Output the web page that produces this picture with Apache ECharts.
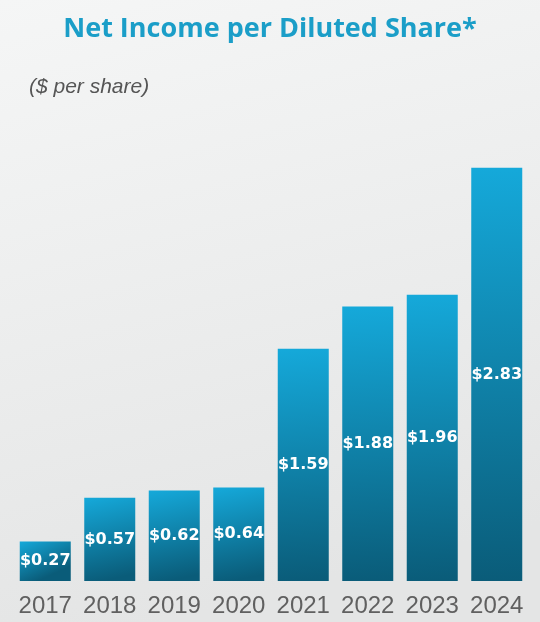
<!DOCTYPE html>
<html>
<head>
<meta charset="utf-8">
<script src="https://cdn.jsdelivr.net/npm/echarts@6/dist/echarts.min.js"></script>
<style>
  html, body { margin: 0; padding: 0; }
  #chart { width: 540px; height: 622px; }
</style>
</head>
<body>
<div id="chart"></div>
<script>
// Net income per diluted share, by fiscal year
const years = ['2017', '2018', '2019', '2020', '2021', '2022', '2023', '2024'];
const epsValues = [0.27, 0.57, 0.62, 0.64, 1.59, 1.88, 1.96, 2.83];

const chart = echarts.init(document.getElementById('chart'));

chart.setOption({
  animation: false,
  backgroundColor: {
    type: 'linear', x: 0, y: 0, x2: 0.3, y2: 1,
    colorStops: [
      { offset: 0, color: '#f5f6f6' },
      { offset: 1, color: '#e4e5e5' }
    ]
  },
  title: [
    {
      text: 'Net Income per Diluted Share*',
      left: 'center',
      top: 11,
      textStyle: {
        fontFamily: 'Open Sans',
        fontWeight: 'bold',
        fontSize: 27,
        color: '#1b9ec8'
      }
    },
    {
      text: '($ per share)',
      left: 24,
      top: 72,
      textStyle: {
        fontFamily: 'Liberation Sans',
        fontStyle: 'italic',
        fontWeight: 'normal',
        fontSize: 21,
        color: '#555555'
      }
    }
  ],
  grid: { left: 13, right: 11, top: 143, bottom: 41 },
  xAxis: {
    type: 'category',
    data: years,
    axisLine: { show: false },
    axisTick: { show: false },
    axisLabel: {
      interval: 0,
      margin: 13,
      fontFamily: 'Liberation Sans',
      fontSize: 24,
      color: '#606060'
    }
  },
  yAxis: {
    type: 'value',
    min: 0,
    max: 3,
    show: false,
    splitLine: { show: false }
  },
  series: [{
    type: 'bar',
    data: epsValues,
    barWidth: 51,
    itemStyle: {
      color: {
        type: 'linear', x: 0, y: 0, x2: 0.35, y2: 1,
        colorStops: [
          { offset: 0, color: '#15a9da' },
          { offset: 1, color: '#0a5c79' }
        ]
      }
    },
    label: {
      show: true,
      position: 'inside',
      formatter: p => '$' + p.value.toFixed(2),
      fontFamily: 'DejaVu Sans',
      fontWeight: 'bold',
      fontSize: 16,
      color: '#ffffff'
    }
  }]
});
</script>
</body>
</html>
